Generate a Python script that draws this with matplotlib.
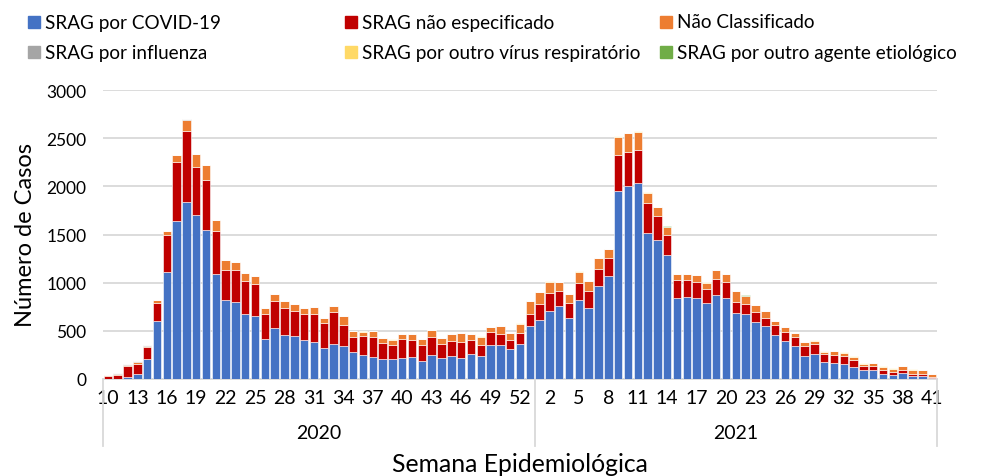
import matplotlib.pyplot as plt
from matplotlib.patches import Rectangle
from matplotlib.transforms import blended_transform_factory
import numpy as np

plt.rcParams["font.family"] = ["Lato", "DejaVu Sans"]

weeks_2020 = list(range(10, 54))
weeks_2021 = list(range(1, 42))

covid_2020 = [5, 5, 24, 49, 205, 597, 1114, 1645, 1839, 1707,
              1548, 1090, 816, 802, 677, 649, 420, 534, 461, 444,
              406, 385, 322, 361, 340, 278, 250, 226, 205, 208,
              222, 226, 188, 250, 215, 236, 222, 260, 240, 351,
              351, 316, 365, 549]
covid_2021 = [615, 708, 757, 632, 819, 740, 962, 1073, 1948, 2000,
              2038, 1517, 1438, 1292, 844, 851, 840, 788, 875, 837,
              688, 674, 594, 549, 455, 392, 340, 240, 264, 177,
              167, 153, 128, 94, 94, 56, 45, 63, 35, 35,
              14]

nao_esp_2020 = [23, 37, 108, 107, 128, 191, 382, 611, 732, 496,
                520, 444, 312, 326, 340, 336, 253, 275, 275, 257,
                271, 290, 258, 330, 222, 163, 201, 215, 170, 150,
                195, 184, 170, 184, 150, 160, 163, 150, 114, 139,
                118, 94, 114, 128]
nao_esp_2021 = [166, 184, 153, 160, 174, 173, 184, 187, 378, 361,
                340, 306, 253, 201, 180, 173, 170, 143, 160, 166,
                114, 107, 97, 86, 101, 98, 101, 104, 101, 87,
                86, 87, 73, 45, 41, 41, 28, 34, 17, 21,
                10]

nao_class_2020 = [10, 13, 18, 18, 14, 28, 38, 72, 122, 132,
                  149, 118, 111, 90, 86, 84, 59, 76, 69, 80,
                  62, 75, 57, 69, 87, 56, 42, 56, 49, 52,
                  45, 59, 59, 73, 59, 69, 91, 55, 87, 45,
                  80, 66, 97, 129]
nao_class_2021 = [118, 115, 97, 90, 122, 101, 111, 87, 191, 188,
                  191, 111, 94, 87, 66, 66, 66, 69, 93, 87,
                  108, 80, 73, 70, 45, 45, 35, 38, 31, 21,
                  35, 34, 32, 21, 28, 31, 35, 35, 42, 34,
                  25]

influenza_2020 = [3, 5, 8, 8, 6, 5, 3, 0, 4, 0,
                  3, 0, 0, 0, 0, 0, 0, 0, 0, 0,
                  0, 0, 0, 0, 0, 0, 0, 0, 0, 0,
                  0, 0, 0, 0, 0, 0, 0, 0, 0, 0,
                  0, 0, 0, 0]
influenza_2021 = [0] * 41

outro_virus_2020 = [0, 0, 0, 0, 0, 0, 0, 0, 0, 0,
                    0, 0, 0, 0, 0, 0, 0, 0, 0, 0,
                    0, 0, 0, 0, 0, 3, 2, 0, 3, 3,
                    4, 3, 0, 3, 4, 3, 4, 5, 4, 8,
                    6, 6, 8, 8]
outro_virus_2021 = [8, 6, 5, 4, 5, 4, 3, 3, 4, 4,
                    3, 3, 3, 3, 3, 3, 3, 3, 3, 3,
                    3, 3, 3, 3, 4, 4, 4, 4, 4, 5,
                    5, 5, 5, 6, 6, 6, 5, 5, 5, 4,
                    3]

outro_agente_2020 = [0, 0, 2, 6, 5, 3, 0, 0, 5, 0,
                     6, 0, 0, 0, 0, 0, 0, 0, 0, 0,
                     0, 0, 0, 0, 4, 3, 0, 0, 0, 0,
                     0, 0, 0, 0, 0, 0, 0, 0, 0, 0,
                     0, 0, 0, 0]
outro_agente_2021 = [0, 0, 0, 0, 5, 0, 0, 0, 0, 0,
                     4, 0, 0, 5, 0, 0, 5, 0, 0, 0,
                     0, 5, 0, 0, 0, 0, 0, 0, 0, 0,
                     0, 0, 0, 0, 0, 0, 0, 0, 0, 0,
                     0]

series = [
    ("SRAG por COVID-19", covid_2020 + covid_2021, "#4472C4"),
    ("SRAG não especificado", nao_esp_2020 + nao_esp_2021, "#C00000"),
    ("Não Classificado", nao_class_2020 + nao_class_2021, "#ED7D31"),
    ("SRAG por influenza", influenza_2020 + influenza_2021, "#A5A5A5"),
    ("SRAG por outro vírus respiratório", outro_virus_2020 + outro_virus_2021, "#FFD966"),
    ("SRAG por outro agente etiológico", outro_agente_2020 + outro_agente_2021, "#70AD47"),
]

all_weeks = weeks_2020 + weeks_2021
x = np.arange(len(all_weeks))

fig = plt.figure(figsize=(9.91, 4.77), dpi=100)
ax = fig.add_axes([103 / 991, 1 - 380 / 477, 834 / 991, 289 / 477])

bottom = np.zeros(len(x))
for name, vals, color in series:
    vals = np.array(vals, dtype=float)
    ax.bar(x, vals, bottom=bottom, width=0.86, color=color,
           edgecolor="white", linewidth=0.4, zorder=3)
    bottom += vals

ax.set_ylim(0, 3000)
ax.set_xlim(-0.5, len(x) - 0.5)
ax.set_yticks(range(0, 3001, 500))
ax.tick_params(axis="y", length=0, labelsize=12.5, pad=12)
ax.grid(axis="y", color="#D9D9D9", linewidth=1.3, zorder=0)
for s in ["top", "right", "left"]:
    ax.spines[s].set_visible(False)
ax.spines["bottom"].set_color("#D9D9D9")
ax.spines["bottom"].set_linewidth(1.3)

# week labels every 3 weeks
tick_pos = [i for i, w in enumerate(weeks_2020) if (w - 10) % 3 == 0]
tick_pos += [len(weeks_2020) + i for i, w in enumerate(weeks_2021) if (w - 2) % 3 == 0]
ax.set_xticks(tick_pos)
ax.set_xticklabels([str(all_weeks[i]) for i in tick_pos])
ax.tick_params(axis="x", length=0, labelsize=14, pad=7)

# year grouping
trans = blended_transform_factory(ax.transData, ax.transAxes)
n20 = len(weeks_2020)
for xv in [-0.5, n20 - 0.5, len(x) - 0.5]:
    ax.plot([xv, xv], [0, -0.232], transform=trans, color="#D9D9D9",
            linewidth=1.3, clip_on=False)
ax.text((n20 - 1) / 2, -0.185, "2020", transform=trans, ha="center",
        va="center", fontsize=14)
ax.text(n20 + (len(weeks_2021) - 1) / 2, -0.185, "2021", transform=trans,
        ha="center", va="center", fontsize=14)

fig.text(520 / 991, 1 - 465 / 477, "Semana Epidemiológica", ha="center",
         va="center", fontsize=17.8)
fig.text(26 / 991, 1 - 235 / 477, "Número de Casos", ha="center",
         va="center", rotation=90, fontsize=17)

# legend
cols = [28, 345, 660]
rows = [23, 53]
for k, (name, vals, color) in enumerate(series):
    cx = cols[k % 3]
    cy = rows[k // 3]
    fig.patches.append(Rectangle((cx / 991, 1 - (cy + 6) / 477), 12 / 991, 12 / 477,
                                 transform=fig.transFigure, color=color))
    fig.text((cx + 17) / 991, 1 - cy / 477, name, ha="left", va="center",
             fontsize=13.6)

fig.savefig("out.png", dpi=100)
